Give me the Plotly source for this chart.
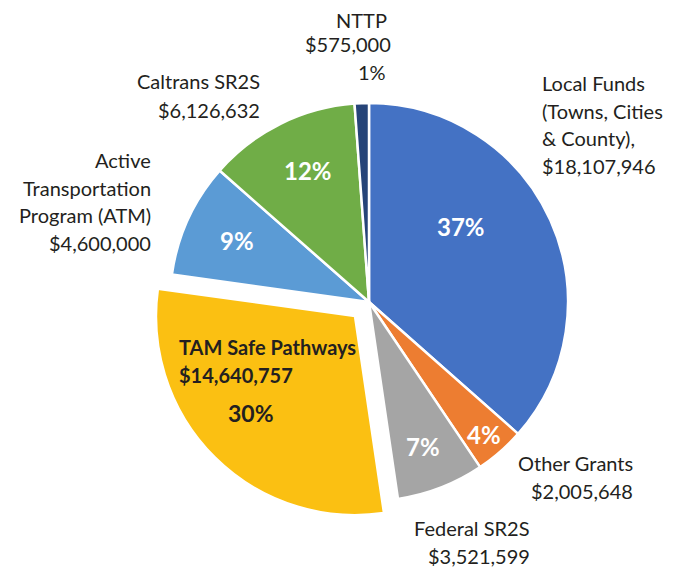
import plotly.graph_objects as go

labels = ["Local Funds (Towns, Cities & County)", "Other Grants", "Federal SR2S",
          "TAM Safe Pathways", "Active Transportation Program (ATM)", "Caltrans SR2S", "NTTP"]
values = [18107946, 2005648, 3521599, 14640757, 4600000, 6126632, 575000]
percents = ["37%", "4%", "7%", "30%", "9%", "12%", "1%"]
colors = ["#4472C4", "#ED7D31", "#A5A5A5", "#FBC012", "#5B9BD5", "#70AD47", "#264478"]
pulls = [0, 0, 0, 0.1, 0, 0, 0]

W, H = 679, 570
cx, cy, r = 369, 302, 199
half = r * (1 + max(pulls))

fig = go.Figure(go.Pie(
    labels=labels, values=values, sort=False, direction="clockwise",
    marker=dict(colors=colors, line=dict(color="white", width=2.5)),
    pull=pulls, textinfo="none", hoverinfo="label+value+percent",
    domain=dict(x=[(cx - half) / W, (cx + half) / W],
                y=[1 - (cy + half) / H, 1 - (cy - half) / H]),
    showlegend=False,
))

FONT = "Lato"
DARK = "#231F20"

def px(x):
    return x / W

def py(y):
    return 1 - y / H

def fmt(v):
    return "${:,}".format(v)

ann = []
def add(text, x, y, xanchor, color=DARK, size=20, bold=False):
    if bold:
        text = "<b>" + text + "</b>"
    ann.append(dict(text=text, x=px(x), y=py(y), xref="paper", yref="paper",
                    xanchor=xanchor, yanchor="middle", showarrow=False,
                    font=dict(family=FONT, size=size, color=color)))

def add_lines(lines, x, y0, step, xanchor, **kw):
    for i, t in enumerate(lines):
        add(t, x, y0 + i * step, xanchor, **kw)

# outside labels
add_lines(["Local Funds", "(Towns, Cities", "& County),", fmt(values[0])], 540, 83, 27.7, "left")
add_lines(["Other Grants", fmt(values[1])], 635, 463, 28, "right")
add_lines(["Federal SR2S", fmt(values[2])], 532, 528, 28, "right")
add_lines(["Active", "Transportation", "Program (ATM)", fmt(values[4])], 153, 160, 27.7, "right")
add_lines(["Caltrans SR2S", fmt(values[5])], 262, 81, 29, "right")
add("NTTP", 389, 20, "right")
add(fmt(values[6]), 393, 44, "right")
add(percents[6], 372, 72, "center")

# inside percentages
WH = "white"
add(percents[0], 461, 226, "center", color=WH, size=24, bold=True)
add(percents[1], 484, 434, "center", color=WH, size=24, bold=True)
add(percents[2], 423, 446, "center", color=WH, size=24, bold=True)
add(percents[4], 237, 240, "center", color=WH, size=24, bold=True)
add(percents[5], 308, 170, "center", color=WH, size=24, bold=True)
add("TAM Safe Pathways", 177, 347, "left", size=20, bold=True)
add(fmt(values[3]), 177, 375, "left", size=20, bold=True)
add(percents[3], 251, 413, "center", size=23, bold=True)

fig.update_layout(
    width=W, height=H, margin=dict(l=0, r=0, t=0, b=0),
    paper_bgcolor="white", plot_bgcolor="white",
    annotations=ann,
)

fig.write_html("out.html", config={"displayModeBar": False},
               post_script="document.body.style.margin='0';document.body.style.overflow='hidden';")
